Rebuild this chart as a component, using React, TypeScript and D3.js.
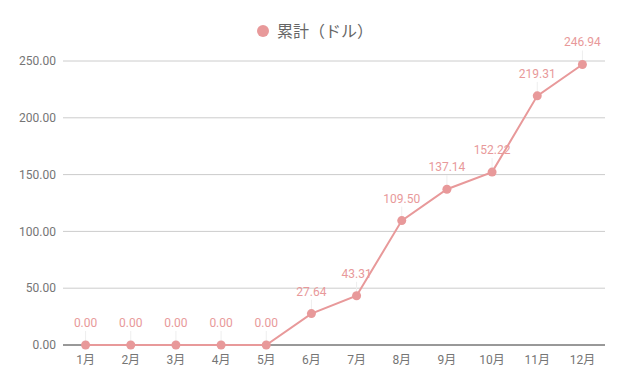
import React from "react";
import * as d3 from "d3";

const months = ["1月", "2月", "3月", "4月", "5月", "6月", "7月", "8月", "9月", "10月", "11月", "12月"];
const totals = [0, 0, 0, 0, 0, 27.64, 43.31, 109.5, 137.14, 152.22, 219.31, 246.94];
const yTicks = [0, 50, 100, 150, 200, 250];
const seriesName = "累計（ドル）";

const W = 625;
const H = 386;
const margin = { top: 61, right: 20, bottom: 41, left: 63 };
const color = "#e8999a";
const font = "Roboto, 'Noto Sans CJK JP', sans-serif";

export default function App() {
  const x = d3
    .scaleBand()
    .domain(months)
    .range([margin.left, W - margin.right]);
  const y = d3
    .scaleLinear()
    .domain([0, 250])
    .range([H - margin.bottom, margin.top]);

  const cx = (m: string) => (x(m) as number) + x.bandwidth() / 2;

  const line = d3
    .line<number>()
    .x((_, i) => cx(months[i]))
    .y(d => y(d));

  return (
    <svg width={W} height={H} style={{ position: "absolute", left: 0, top: 0 }}>
      <rect width={W} height={H} fill="#fff" />
      {/* legend title */}
      <circle cx={263} cy={31} r={6} fill={color} />
      <text x={277} y={37} fontSize={16} fill="#666" fontFamily="'Noto Sans CJK JP', sans-serif">
        {seriesName}
      </text>
      {/* grid */}
      {yTicks.map(t => (
        <g key={t}>
          {t > 0 && (
            <line
              x1={margin.left}
              x2={W - margin.right}
              y1={y(t)}
              y2={y(t)}
              stroke="#cccccc"
              strokeWidth={1}
            />
          )}
          <text
            x={margin.left - 7}
            y={y(t)}
            dy="0.35em"
            textAnchor="end"
            fontSize={12}
            fill="#757575"
            fontFamily={font}
          >
            {t.toFixed(2)}
          </text>
        </g>
      ))}
      {/* x labels */}
      {months.map(m => (
        <text
          key={m}
          x={cx(m)}
          y={H - margin.bottom + 19}
          textAnchor="middle"
          fontSize={12}
          fill="#757575"
          fontFamily={font}
        >
          {m}
        </text>
      ))}
      {/* leader lines */}
      {totals.map((v, i) => (
        <line
          key={"l" + i}
          x1={cx(months[i])}
          x2={cx(months[i])}
          y1={y(v) - 14}
          y2={y(v) - 3}
          stroke="#eeeeee"
          strokeWidth={1}
        />
      ))}
      <line
        x1={margin.left}
        x2={W - margin.right}
        y1={y(0)}
        y2={y(0)}
        stroke="#333"
        strokeWidth={1}
      />
      <path d={line(totals) as string} fill="none" stroke={color} strokeWidth={2} />
      {totals.map((v, i) => (
        <circle key={"c" + i} cx={cx(months[i])} cy={y(v)} r={4.5} fill={color} />
      ))}
      {totals.map((v, i) => (
        <text
          key={"t" + i}
          x={cx(months[i])}
          y={y(v) - 18}
          textAnchor="middle"
          fontSize={12}
          fill={color}
          fontFamily={font}
        >
          {v.toFixed(2)}
        </text>
      ))}
    </svg>
  );
}
